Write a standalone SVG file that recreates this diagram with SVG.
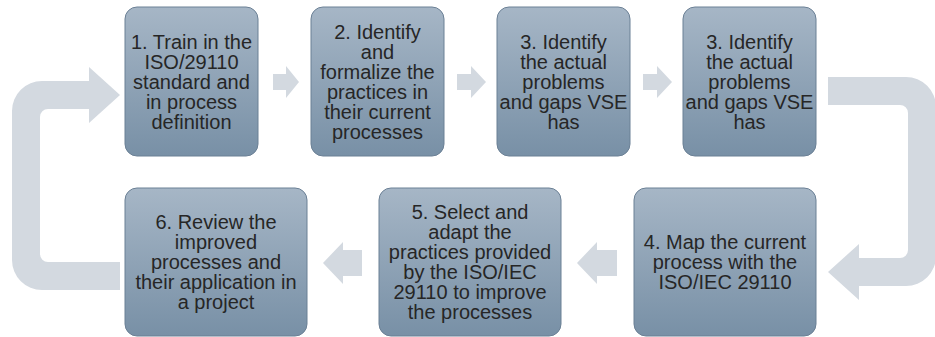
<svg xmlns="http://www.w3.org/2000/svg" width="935" height="337" viewBox="0 0 935 337">
<defs>
<linearGradient id="g" x1="0" y1="0" x2="0" y2="1">
<stop offset="0" stop-color="#a6b6c6"/>
<stop offset="1" stop-color="#7890a6"/>
</linearGradient>
<path id="uturn" d="M120,290 L42,290 A30,30 0 0 1 12,260 L12,111 A30,30 0 0 1 42,81 L89,81 L89,67 L120,95 L89,123 L89,109 L48,109 A8,8 0 0 0 40,117 L40,254 A8,8 0 0 0 48,262 L120,262 Z"/>
</defs>
<style>
.box{fill:url(#g);stroke:#6b8095;stroke-width:1}
.lbl{font-family:"Liberation Sans",Arial,sans-serif;font-size:20px;fill:#262626;text-anchor:middle}
.arr{fill:#d3d9e0}
</style>
<rect width="935" height="337" fill="#ffffff"/>
<g id="connectors">
<use href="#uturn" class="arr"/>
<use href="#uturn" class="arr" transform="rotate(180 474 183.5)"/>
<path class="arr" d="M273,74 L286,74 L286,66 L299,82 L286,98 L286,90 L273,90 Z"/>
<path class="arr" d="M457,74 L471,74 L471,66 L486,82 L471,98 L471,90 L457,90 Z"/>
<path class="arr" d="M643,74 L657,74 L657,66 L672,82 L657,98 L657,90 L643,90 Z"/>
<path class="arr" d="M617,250 L597,250 L597,242 L577,263 L597,284 L597,276 L617,276 Z"/>
<path class="arr" d="M362,250 L343,250 L343,242 L323,263 L343,284 L343,276 L362,276 Z"/>
</g>
<g id="node1">
<rect class="box" x="125" y="7" width="133" height="149" rx="12"/>
<text class="lbl" x="191.5" y="48.5"><tspan x="191.5">1. Train in the</tspan><tspan x="191.5" dy="20">ISO/29110</tspan><tspan x="191.5" dy="20">standard and</tspan><tspan x="191.5" dy="20">in process</tspan><tspan x="191.5" dy="20">definition</tspan></text>
</g>
<g id="node2">
<rect class="box" x="311" y="7" width="133" height="149" rx="12"/>
<text class="lbl" x="377.5" y="38.5"><tspan x="377.5">2. Identify</tspan><tspan x="377.5" dy="20">and</tspan><tspan x="377.5" dy="20">formalize the</tspan><tspan x="377.5" dy="20">practices in</tspan><tspan x="377.5" dy="20">their current</tspan><tspan x="377.5" dy="20">processes</tspan></text>
</g>
<g id="node3">
<rect class="box" x="497" y="7" width="133" height="149" rx="12"/>
<text class="lbl" x="563.5" y="48.5"><tspan x="563.5">3. Identify</tspan><tspan x="563.5" dy="20">the actual</tspan><tspan x="563.5" dy="20">problems</tspan><tspan x="563.5" dy="20">and gaps VSE</tspan><tspan x="563.5" dy="20">has</tspan></text>
</g>
<g id="node3b">
<rect class="box" x="683" y="7" width="133" height="149" rx="12"/>
<text class="lbl" x="749.5" y="48.5"><tspan x="749.5">3. Identify</tspan><tspan x="749.5" dy="20">the actual</tspan><tspan x="749.5" dy="20">problems</tspan><tspan x="749.5" dy="20">and gaps VSE</tspan><tspan x="749.5" dy="20">has</tspan></text>
</g>
<g id="node4">
<rect class="box" x="634" y="188" width="182" height="148" rx="12"/>
<text class="lbl" x="725" y="249"><tspan x="725">4. Map the current</tspan><tspan x="725" dy="20">process with the</tspan><tspan x="725" dy="20">ISO/IEC 29110</tspan></text>
</g>
<g id="node5">
<rect class="box" x="379" y="188" width="182" height="148" rx="12"/>
<text class="lbl" x="470" y="219"><tspan x="470">5. Select and</tspan><tspan x="470" dy="20">adapt the</tspan><tspan x="470" dy="20">practices provided</tspan><tspan x="470" dy="20">by the ISO/IEC</tspan><tspan x="470" dy="20">29110 to improve</tspan><tspan x="470" dy="20">the processes</tspan></text>
</g>
<g id="node6">
<rect class="box" x="125" y="188" width="182" height="148" rx="12"/>
<text class="lbl" x="216" y="229"><tspan x="216">6. Review the</tspan><tspan x="216" dy="20">improved</tspan><tspan x="216" dy="20">processes and</tspan><tspan x="216" dy="20">their application in</tspan><tspan x="216" dy="20">a project</tspan></text>
</g>
</svg>
